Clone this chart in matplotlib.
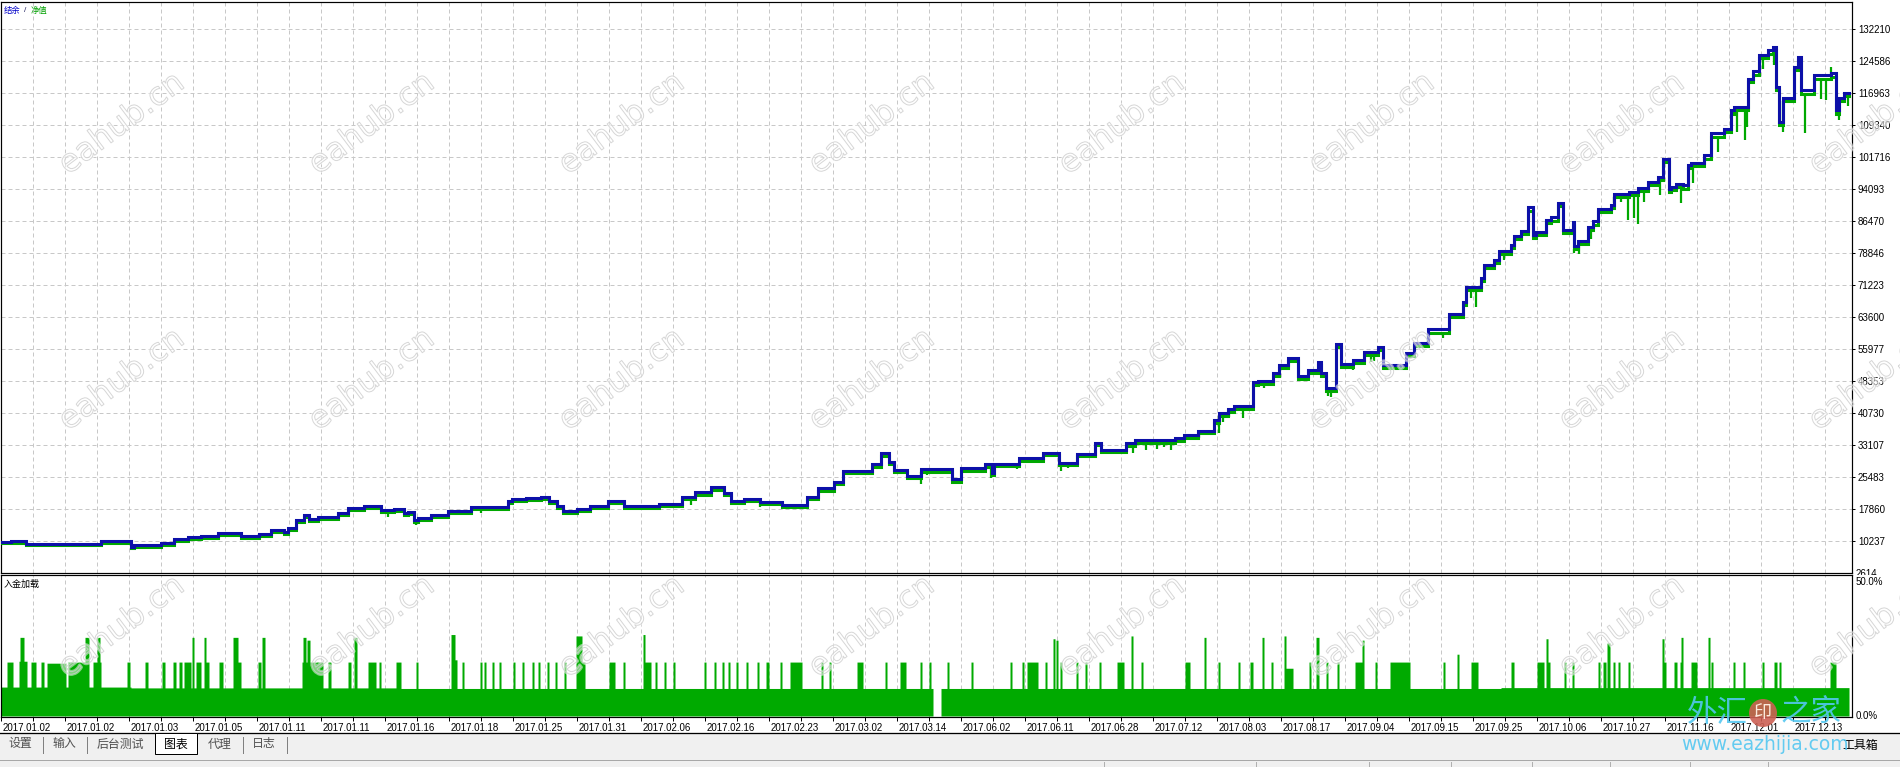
import numpy as np
import matplotlib
matplotlib.use('Agg')
import matplotlib.pyplot as plt
import matplotlib.patheffects as pe
from matplotlib.patches import Rectangle, Circle
from matplotlib.lines import Line2D
from matplotlib.transforms import Bbox, TransformedBbox, ScaledTranslation

plt.rcParams['font.family'] = ['Liberation Sans', 'Noto Sans CJK SC', 'DejaVu Sans']

# ---------------- data ----------------
# balance curve: trade index where a new balance level starts, and the level
bal_idx = [0, 10, 25, 100, 130, 133, 160, 173, 187, 200,
           217, 240, 258, 270, 283, 287, 295, 303, 308, 317,
           337, 347, 363, 380, 393, 403, 407, 413, 417, 430,
           447, 470, 500, 507, 511, 525, 540, 548, 556, 562,
           576, 589, 607, 623, 658, 681, 694, 710, 723, 730,
           743, 759, 781, 806, 817, 833, 842, 871, 880, 888,
           893, 906, 920, 951, 960, 984, 991, 993, 1018, 1042,
           1058, 1076, 1094, 1100, 1125, 1134, 1174, 1183, 1197, 1213,
           1218, 1227, 1233, 1252, 1257, 1272, 1278, 1287, 1297, 1307,
           1317, 1320, 1325, 1335, 1340, 1352, 1363, 1377, 1382, 1405,
           1413, 1427, 1448, 1462, 1465, 1480, 1483, 1493, 1498, 1510,
           1513, 1520, 1527, 1532, 1535, 1545, 1550, 1557, 1562, 1572,
           1573, 1577, 1587, 1592, 1597, 1610, 1613, 1628, 1637, 1647,
           1657, 1662, 1668, 1670, 1675, 1682, 1687, 1690, 1703, 1710,
           1723, 1730, 1733, 1747, 1752, 1758, 1767, 1772, 1775, 1778,
           1782, 1793, 1797, 1800, 1813, 1830, 1835, 1838, 1843]
bal_val = [10100, 10300, 9600, 10300, 8900, 9200, 9800, 10600, 11200, 11500,
           12150, 11400, 11800, 12850, 12300, 13250, 15240, 16400, 15470, 15950,
           16900, 18000, 18650, 17550, 17860, 16850, 17150, 15300, 15800, 16350,
           17300, 18400, 18250, 19800, 20160, 20480, 20800, 19840, 18570, 17460,
           17790, 18570, 19770, 18570, 19050, 20650, 21840, 23030, 21600, 19840,
           20240, 19600, 18750, 20800, 22800, 24370, 27000, 28520, 31130, 29150,
           27150, 25720, 27330, 24950, 27570, 28520, 26500, 28580, 29940, 31280,
           28900, 30960, 33660, 31920, 33500, 34300, 34700, 35500, 36520, 39060,
           40800, 41600, 42400, 48200, 48420, 50180, 52160, 53750, 49530, 50970,
           52800, 50180, 46600, 57090, 52330, 53360, 55340, 56370, 52160, 54940,
           57480, 60650, 64460, 67240, 70810, 72960, 75990, 77180, 79360, 80800,
           82900, 84170, 89730, 83140, 83920, 86710, 87350, 90840, 84320, 86300,
           80650, 81840, 85170, 86430, 89380, 90430, 92970, 93380, 94400, 95770,
           96960, 101330, 94200, 94720, 95370, 95000, 99950, 100380, 102200, 107360,
           108550, 112920, 113700, 120460, 122200, 126170, 127230, 128010, 118480, 110140,
           115860, 123240, 125620, 117700, 121270, 121670, 112920, 115860, 117130]
# floating loss (balance - equity) on each balance level
eq_gap = [420, 450, 420, 450, 400, 420, 450, 450, 450, 450,
          450, 450, 450, 450, 450, 450, 480, 500, 480, 480,
          480, 480, 480, 480, 480, 480, 480, 480, 480, 480,
          480, 480, 480, 500, 500, 500, 500, 500, 500, 500,
          500, 500, 500, 500, 500, 500, 520, 520, 500, 500,
          520, 520, 520, 520, 540, 540, 560, 560, 580, 560,
          560, 560, 560, 560, 560, 580, 560, 580, 580, 580,
          580, 580, 600, 580, 600, 600, 600, 600, 620, 640,
          650, 650, 650, 700, 700, 700, 700, 700, 680, 680,
          680, 680, 700, 720, 700, 700, 700, 700, 700, 700,
          700, 720, 720, 720, 740, 740, 740, 740, 740, 750,
          750, 750, 780, 750, 750, 760, 760, 780, 750, 750,
          750, 750, 760, 760, 780, 780, 780, 780, 780, 780,
          800, 800, 780, 780, 780, 780, 800, 800, 800, 820,
          820, 820, 820, 850, 850, 850, 850, 850, 820, 800,
          820, 850, 850, 820, 820, 820, 800, 800, 800]
bal_end = 1848

# equity spikes (index, equity value)
eq_dip_idx = [57, 147, 312, 387, 415, 480, 493, 571, 603, 643,
              672, 690, 759, 768, 786, 857, 866, 920, 926, 946,
              955, 990, 1016, 1031, 1060, 1067, 1132, 1145, 1156, 1163,
              1170, 1198, 1218, 1222, 1228, 1242, 1263, 1327, 1330, 1352,
              1370, 1373, 1427, 1442, 1458, 1470, 1475, 1503, 1533, 1543,
              1573, 1578, 1590, 1613, 1620, 1627, 1633, 1637, 1643, 1659,
              1680, 1692, 1717, 1736, 1744, 1746, 1762, 1773, 1782, 1804,
              1820, 1825, 1830, 1838, 1847]
eq_dip_val = [9050, 8740, 14830, 15950, 14050, 16830, 17380, 16830, 18100, 17860,
              18400, 18800, 18400, 18700, 18270, 26360, 26500, 23810, 25900, 26200,
              24600, 25170, 27320, 28890, 26990, 27560, 31130, 32010, 32250, 32600,
              32010, 34700, 35900, 38660, 39850, 39460, 46600, 44780, 44470, 50970,
              52950, 53200, 56150, 58530, 63690, 68060, 66060, 77180, 82730, 82580,
              78770, 78610, 82110, 90690, 91000, 86850, 87300, 85900, 91090, 92670,
              90690, 95600, 102970, 107750, 105770, 108950, 122850, 123640, 107750, 107510,
              115700, 115300, 123300, 110530, 113950]

# margin load panel: base levels and spikes (percent)
m_base_idx = [0, 130, 400, 932, 940, 1500]
m_base_val = [10.3, 10.0, 9.8, 0.0, 9.8, 10.1]
m_spk_start = [6, 18, 19, 30, 40, 46, 67, 84, 92, 96,
               126, 144, 161, 172, 178, 183, 191, 195, 203, 205,
               218, 232, 237, 257, 261, 301, 302, 306, 327, 347,
               353, 367, 378, 395,
               415, 450, 454, 461, 479, 483, 491, 498, 512, 521,
               531, 537, 546, 554, 563, 575, 581, 608, 622, 642,
               644, 654, 663, 672, 703, 713, 721, 727, 735, 745,
               756, 765, 779, 789, 820, 828, 856, 884, 899, 919,
               928, 946, 970, 1009, 1021, 1026, 1044, 1052, 1055, 1059,
               1075, 1084, 1098, 1116, 1130, 1140, 1184, 1203, 1217, 1237,
               1249, 1261, 1270, 1283, 1285, 1308, 1315, 1325, 1336, 1354,
               1361, 1374, 1389, 1442, 1456, 1470,
               1510, 1536, 1545, 1547, 1563, 1571, 1597, 1602, 1606, 1612,
               1617, 1627, 1661, 1663, 1673, 1679, 1680, 1690, 1707, 1710,
               1732, 1742, 1761, 1773, 1778, 1829]
m_spk_end = [12, 26, 23, 35, 43, 65, 87, 88, 100, 99,
             129, 147, 164, 175, 181, 190, 193, 200, 205, 208,
             222, 237, 240, 260, 264, 322, 305, 309, 330, 350,
             356, 375, 380, 400,
             417, 454, 456, 463, 481, 485, 493, 500, 514, 523,
             533, 539, 548, 556, 565, 581, 584, 614, 624, 644,
             650, 656, 665, 674, 705, 715, 723, 729, 737, 747,
             758, 768, 781, 801, 822, 830, 862, 886, 905, 921,
             930, 948, 972, 1011, 1023, 1037, 1046, 1054, 1057, 1061,
             1077, 1086, 1100, 1123, 1132, 1142, 1189, 1205, 1219, 1239,
             1252, 1263, 1272, 1285, 1292, 1310, 1318, 1327, 1338, 1363,
             1363, 1376, 1409, 1444, 1458, 1477,
             1513, 1543, 1547, 1549, 1565, 1573, 1599, 1605, 1609, 1614,
             1619, 1629, 1663, 1665, 1676, 1680, 1682, 1696, 1709, 1712,
             1734, 1744, 1763, 1776, 1780, 1835]
m_spk_val = [19.2, 19.5, 28, 19.2, 19.2, 18.8, 19.2, 28, 19.2, 28,
             19.2, 19.2, 19.2, 19.2, 19.2, 19.2, 28, 19.2, 28, 19.2,
             19.2, 28, 19.2, 19.2, 28, 19.2, 28, 27, 19.2, 19.2,
             28, 19.2, 19.2, 19.2,
             19.2, 29, 20, 19.2, 19.2, 19.2, 19.2, 19.2, 19.2, 19.2,
             19.2, 19.2, 19.2, 19.2, 19.2, 28.5, 19.2, 19.2, 19.2, 29,
             19.2, 19.2, 19.2, 19.2, 19.2, 19.2, 19.2, 19.2, 19.2, 19.2,
             19.2, 19.2, 19.2, 19.2, 19.2, 19.2, 19.2, 19.2, 19.2, 19.2,
             19.2, 19.2, 19.2, 19.2, 19.2, 19.2, 19.2, 27.5, 27, 19.2,
             19.2, 19.2, 19.2, 19.2, 28.5, 19.2, 19.2, 28, 19.2, 19.2,
             19.2, 28, 19.2, 28.5, 17, 19.2, 28, 19.2, 19.2, 19.2,
             27, 19.2, 19.2, 19.2, 22, 19.2,
             19.2, 19.2, 27.5, 19.2, 19.2, 19.2, 19.2, 19.2, 26, 19.2,
             19.2, 19.2, 27.5, 19.2, 19.2, 19.2, 28, 19.2, 28, 19.2,
             19.2, 19.2, 19.2, 19.2, 19.2, 19.2]

y_ticks = [10237, 17860, 25483, 33107, 40730, 48353, 55977, 63600, 71223,
           78846, 86470, 94093, 101716, 109340, 116963, 124586, 132210]
y_bottom_label = 2614
date_labels = ['2017.01.02', '2017.01.02', '2017.01.03', '2017.01.05', '2017.01.11',
               '2017.01.11', '2017.01.16', '2017.01.18', '2017.01.25', '2017.01.31',
               '2017.02.06', '2017.02.16', '2017.02.23', '2017.03.02', '2017.03.14',
               '2017.06.02', '2017.06.11', '2017.06.28', '2017.07.12', '2017.08.03',
               '2017.08.17', '2017.09.04', '2017.09.15', '2017.09.25', '2017.10.06',
               '2017.10.27', '2017.11.16', '2017.12.01', '2017.12.13']
tabs = ['设置', '输入', '后台测试', '图表', '代理', '日志']

# ---------------- figure ----------------
W, H = 1900, 767
fig = plt.figure(figsize=(W / 100, H / 100), dpi=100)
fig.patch.set_facecolor('white')


def rect(x0, y0, x1, y1):
    return [x0 / W, 1 - y1 / H, (x1 - x0) / W, (y1 - y0) / H]


def P(x, y):
    return (x / W, 1 - y / H)


def ftext(x, y, s, **kw):
    return fig.text(x / W, 1 - y / H, s, **kw)


BLUE = '#0C10A8'
GREEN = '#00A800'
GRID = '#C8C8C8'
PX = 0.72

ax1 = fig.add_axes(rect(1, 2, 1852, 573))
ax2 = fig.add_axes(rect(1, 575, 1852, 717))

for ax in (ax1, ax2):
    ax.set_xlim(0, 1851)
    for s in ax.spines.values():
        s.set_color('black')
        s.set_linewidth(PX * 1.2)
    ax.set_facecolor('white')

# top panel
ax1.set_ylim(2614, 138700)
ax1.set_xticks(np.arange(0, 1851, 32))
ax1.set_yticks(y_ticks)
ax1.yaxis.tick_right()
ax1.tick_params(axis='x', length=0, labelbottom=False)
ax1.tick_params(axis='y', length=2, width=PX, pad=2.2, labelsize=7.0, colors='black')
ax1.grid(True, color=GRID, linestyle=(0, (4, 3)), linewidth=PX)
ax1.set_axisbelow(True)

bx = np.array(bal_idx + [bal_end])
by = np.array(bal_val + [bal_val[-1]], dtype=float)
eg = np.array(eq_gap + [eq_gap[-1]], dtype=float)
ey = by - eg

ax1.plot(bx, ey, drawstyle='steps-post', color=GREEN, lw=2.2, zorder=3,
         solid_joinstyle='miter')
seg = np.searchsorted(np.array(bal_idx), np.array(eq_dip_idx), side='right') - 1
base_eq = ey[seg]
ax1.vlines(eq_dip_idx, np.minimum(eq_dip_val, base_eq), np.maximum(eq_dip_val, base_eq),
           color=GREEN, lw=1.6, zorder=3)
ax1.plot(bx, by, drawstyle='steps-post', color=BLUE, lw=2.2, zorder=4,
         solid_joinstyle='miter')

# bottom label of top panel, clipped at the panel edge
t = ftext(1856, 574, str(y_bottom_label), fontsize=7.0, va='center', ha='left')
t.set_clip_box(TransformedBbox(Bbox([[0, 1 - 574.5 / H], [1, 1]]), fig.transFigure))
t.set_clip_on(True)

ftext(4, 11, '结余', fontsize=6, color='#0000C8', va='center', ha='left',
      family=['Noto Sans CJK SC'])
ftext(24, 11, '/', fontsize=6, color='#202060', va='center', ha='left')
ftext(31, 11, '净值', fontsize=6, color='#00A000', va='center', ha='left',
      family=['Noto Sans CJK SC'])

# margin panel
N = bal_end
margin = np.zeros(N)
bi = m_base_idx + [N]
for i in range(len(m_base_val)):
    margin[bi[i]:bi[i + 1]] = m_base_val[i]
for s0, s1, v in zip(m_spk_start, m_spk_end, m_spk_val):
    margin[s0:s1] = np.maximum(margin[s0:s1], v)
mx = np.arange(N + 1)
my = np.append(margin, margin[-1])
ax2.fill_between(mx, 0, my, step='post', color='#00AA00', linewidth=0, zorder=2)
ax2.set_ylim(-0.36, 50.2)
ax2.set_yticks([])
xt = np.arange(0, 1851, 32)
ax2.set_xticks(xt)
ax2.set_xticklabels([date_labels[i // 2] if i % 2 == 0 else '' for i in range(len(xt))],
                    ha='left', fontsize=7.0)
ax2.tick_params(axis='x', length=3, width=PX, direction='out', pad=1.2, colors='black')
ax2.grid(True, axis='x', color=GRID, linestyle=(0, (4, 3)), linewidth=PX)
ax2.set_axisbelow(True)
for lbl in ax2.get_xticklabels():
    lbl.set_transform(lbl.get_transform() + ScaledTranslation(2 / 100, 0, fig.dpi_scale_trans))

ftext(4, 584, '入金加载', fontsize=6.5, color='black', va='center', ha='left',
      family=['Noto Sans CJK SC'])
ftext(1856, 582, '50.0%', fontsize=7.0, va='center', ha='left')
ftext(1856, 716, '0.0%', fontsize=7.0, va='center', ha='left')

# ---------------- tab bar ----------------
fig.patches.append(Rectangle(P(0, 767), 1, 34 / H, transform=fig.transFigure,
                             facecolor='#F0F0F0', edgecolor='none', zorder=0))
fig.lines.append(Line2D([0, 1], [1 - 733 / H] * 2, transform=fig.transFigure,
                        color='black', lw=PX * 1.3))
fig.patches.append(Rectangle(P(155, 754), 42 / W, 21 / H, transform=fig.transFigure,
                             facecolor='white', edgecolor='black', lw=PX, zorder=2))
for xd in [43, 87, 243, 287]:
    fig.lines.append(Line2D([xd / W] * 2, [1 - 737 / H, 1 - 753 / H], transform=fig.transFigure,
                            color='#808080', lw=PX))
fig.lines.append(Line2D([0, 1], [1 - 760 / H] * 2, transform=fig.transFigure,
                        color='#A8A8A8', lw=PX))
for xd in [1104, 1256, 1369, 1451, 1532, 1610, 1690, 1768]:
    fig.lines.append(Line2D([xd / W] * 2, [1 - 762 / H, 0], transform=fig.transFigure,
                            color='#B0B0B0', lw=PX))
tab_cx = [20, 64, 120, 176, 220, 264]
for name, cx in zip(tabs, tab_cx):
    ftext(cx, 744, name, fontsize=8.6, ha='center', va='center',
          color='black' if name == '图表' else '#505050',
          family=['Noto Sans CJK SC'], zorder=3)
ftext(1878, 745, '工具箱', fontsize=8.6, ha='right', va='center', color='black',
      family=['Noto Sans CJK SC'], zorder=6)

# ---------------- watermarks ----------------
for cx in [122 + 250 * k for k in range(8)]:
    for cy in [124, 380, 627]:
        ftext(cx, cy, 'eahub.cn', fontsize=23, rotation=37, ha='center', va='center',
              color=(1, 1, 1, 0), family=['DejaVu Sans'], zorder=10,
              path_effects=[pe.Stroke(linewidth=2.4, foreground=(1, 1, 1, 0.5)),
                            pe.Stroke(linewidth=0.7, foreground=(0.80, 0.80, 0.80, 0.8))])

LB = (0.33, 0.78, 0.94, 0.9)
ftext(1717, 713, '外汇', fontsize=22, ha='center', va='center', color=LB,
      family=['Noto Sans CJK SC'], zorder=11)
ftext(1811, 713, '之家', fontsize=22, ha='center', va='center', color=LB,
      family=['Noto Sans CJK SC'], zorder=11)
circ = Circle((1763 / 100, (H - 713) / 100), 0.14, transform=fig.dpi_scale_trans,
              facecolor=(0.80, 0.38, 0.33, 0.9), edgecolor='none', zorder=11)
fig.patches.append(circ)
ftext(1763, 713, '印', fontsize=13, ha='center', va='center', color=(1, 0.95, 0.9, 0.95),
      family=['Noto Sans CJK SC'], zorder=12)
ftext(1765, 744, 'www.eazhijia.com', fontsize=13.5, ha='center', va='center', color=LB,
      family=['DejaVu Sans'], zorder=11)

fig.savefig('out.png', dpi=100)
